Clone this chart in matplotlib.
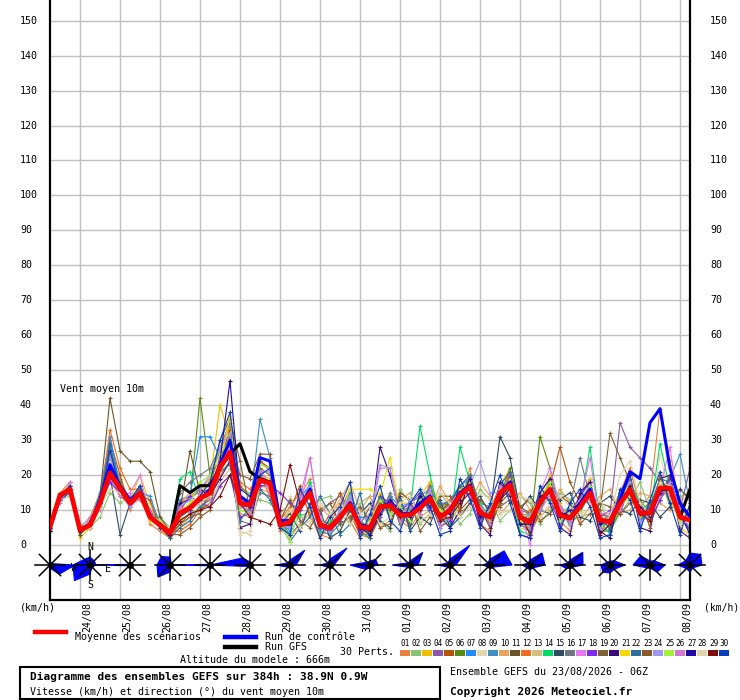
import numpy as np
import matplotlib
matplotlib.use("Agg")
import matplotlib.pyplot as plt
from matplotlib import transforms
from matplotlib.patches import Polygon, Rectangle
from matplotlib.lines import Line2D

plt.rcParams['font.family'] = ['DejaVu Sans Mono']

W, H = 740, 700

# run steps (hours from 23/08 06Z), one every 6h up to 384h
hours = np.arange(65) * 6

days = ["24/08", "25/08", "26/08", "27/08", "28/08", "29/08", "30/08", "31/08",
        "01/09", "02/09", "03/09", "04/09", "05/09", "06/09", "07/09", "08/09"]
day_hours = [18 + 24 * i for i in range(16)]

yticks = list(range(0, 151, 10))

pert_colors = ["#E6823C", "#8AC46E", "#F0C000", "#8C56AA", "#B4520A", "#5A8C14",
               "#1E8CFF", "#E6D6AF", "#3C91BE", "#E6A55A", "#6A5524", "#F06E1E",
               "#D2BE7D", "#00DC64", "#2D4B64", "#6E7882", "#E678F0", "#8228F0",
               "#7D6432", "#3C0A78", "#F0DC00", "#2D6EA0", "#8C5A28", "#A096F0",
               "#A0F03C", "#D278D2", "#1E0AA0", "#E1D2AA", "#820A0A", "#0A3CBE"]

# wind speed of the 30 perturbations (km/h)
perts = [
    [5,15,18,3,8,15,26,19, 10,17,6,4,2,12,14,16, 19,27,34,9,8,24,21,4,
     5,14,19,3,2,10,16,3, 2,8,13,7,5,9,18,5, 7,11,22,6,4,13,21,10, 3,9,20,7,4,14,19,3, 9,15,22,11,14,39,24,11, 9],
    [6,13,14,6,5,8,15,12, 14,13,10,8,5,7,9,11, 11,17,20,16,15,13,12,9,
     12,8,10,13,14,9,6,12, 14,7,4,16,12,6,9,15, 11,6,9,16,13,7,10,14, 12,6,10,15,13,8,9,13, 4,9,13,18,10,19,11,14, 15],
    [4,14,16,2,5,13,28,18, 13,20,12,5,3,10,14,15, 18,40,31,14,12,20,19,8,
     9,12,16,5,4,7,13,4, 3,15,10,12,12,14,18,11, 7,11,20,12,5,17,22,5, 4,9,20,12,6,14,19,4, 9,15,19,7,12,13,20,5, 3],
    [5,14,15,4,6,12,22,15, 12,15,9,6,3,9,10,13, 16,22,27,11,11,18,17,7,
     3,6,11,9,12,14,8,6, 3,8,14,6,11,9,16,10, 12,16,14,10,10,17,15,10, 9,14,15,10,9,13,12,9, 9,35,28,25,22,18,16,10, 22],
    [5,15,16,4,5,11,30,20, 11,14,13,5,2,6,9,10, 12,24,33,17,14,24,22,6,
     10,17,8,4,9,15,9,3, 6,13,8,11,10,12,11,9, 12,11,18,11,5,12,18,10, 4,9,17,28,18,12,16,9, 8,10,17,11,6,13,17,10, 8],
    [4,14,17,3,7,13,25,18, 12,14,8,5,3,11,13,42, 20,24,30,11,12,20,18,5,
     6,10,16,5,4,9,12,4, 2,10,14,6,11,9,17,10, 12,13,20,7,10,14,22,11, 4,31,22,10,6,9,16,4, 4,10,18,12,7,19,14,10, 4],
    [5,13,16,5,6,15,31,17, 13,15,14,6,4,13,14,31, 31,25,30,13,12,19,17,7,
     4,14,17,4,3,10,15,8, 8,8,14,11,12,14,16,11, 13,17,19,12,11,12,20,6, 4,15,19,11,5,14,18,5, 4,14,18,6,12,14,19,10, 9],
    [6,15,17,4,5,10,18,14, 11,13,7,5,3,4,7,12, 13,20,24,3,4,17,16,6,
     14,9,6,12,10,4,9,13, 7,13,8,11,6,12,10,10, 7,16,14,11,5,16,14,5, 8,14,13,10,5,13,12,9, 9,14,13,11,6,26,14,10, 9],
    [5,14,16,4,6,12,22,16, 12,16,8,6,3,9,11,13, 15,22,28,12,11,36,25,8,
     5,10,18,4,3,6,15,3, 3,9,14,7,11,9,16,6, 12,12,19,7,10,13,20,6, 9,10,18,7,10,9,17,5, 9,10,18,7,11,14,19,26, 12],
    [5,14,15,4,6,11,26,15, 12,13,9,6,4,12,15,16, 18,25,29,9,8,16,15,7,
     2,6,9,11,8,13,18,10, 14,5,7,13,15,8,10,17, 12,9,12,18,14,9,12,15, 10,8,11,16,12,7,11,14, 16,9,10,15,14,12,10,13, 16],
    [4,13,16,3,6,14,42,27, 24,24,21,8,4,10,27,15, 16,24,30,13,12,18,18,6,
     7,11,16,5,4,9,12,4, 6,14,9,11,6,14,13,5, 8,16,16,11,5,18,16,9, 8,14,15,11,6,14,13,9, 4,15,15,10,12,14,20,7, 10],
    [6,15,16,5,5,12,33,22, 16,16,9,7,4,4,6,10, 14,20,24,18,16,20,14,7,
     11,15,9,2,6,12,7,2, 8,14,12,8,6,15,12,11, 13,11,18,8,9,12,21,7, 10,11,18,8,9,10,16,6, 8,11,17,8,12,15,17,7, 8],
    [7,14,16,5,6,11,19,15, 13,14,9,6,4,5,8,11, 12,18,22,16,14,17,16,7,
     8,12,14,7,6,9,11,6, 4,10,13,7,10,10,15,7, 8,17,14,10,7,15,14,11, 5,13,13,7,11,10,16,10, 5,13,13,10,7,17,13,7, 10],
    [5,14,17,4,6,13,22,17, 12,15,8,6,3,19,21,13, 16,22,27,12,9,20,17,6,
     3,9,18,4,7,6,14,7, 5,11,12,9,10,34,20,8, 6,28,18,12,8,15,17,4, 3,14,16,9,11,11,28,7, 3,12,16,13,9,29,16,8, 7],
    [5,13,15,4,5,12,20,3, 12,14,9,6,3,8,10,12, 14,21,26,12,11,18,17,6,
     9,4,12,10,2,4,10,9, 12,7,5,14,4,8,6,13, 5,8,12,14,9,31,25,10, 14,10,9,13,15,8,7,12, 14,10,9,13,12,8,11,16, 13],
    [5,14,16,4,7,13,28,16, 13,14,9,6,4,15,18,20, 22,28,35,7,6,15,14,7,
     6,12,15,5,4,9,13,6, 3,8,15,6,12,9,17,6, 11,13,20,7,11,13,19,6, 4,10,19,6,11,25,14,6, 9,11,20,8,11,13,19,5, 11],
    [6,13,17,4,6,12,19,14, 15,20,8,5,3,8,12,13, 15,24,28,11,10,22,17,5,
     7,11,25,7,5,10,13,6, 5,22,22,10,9,12,14,8, 10,14,17,11,8,16,17,10, 0,15,22,11,9,12,25,6, 7,11,16,9,9,16,28,8, 7],
    [4,13,15,4,6,12,18,15, 11,14,8,6,3,10,14,12, 11,17,20,8,9,17,17,15,
     12,10,14,5,4,7,11,4, 6,14,12,10,12,15,10,9, 7,17,14,6,11,12,20,9, 8,15,13,6,9,14,18,8, 10,9,17,11,7,13,19,9, 4],
    [5,15,16,5,6,11,22,14, 12,15,9,6,3,6,8,9, 16,30,36,24,10,22,20,7,
     13,7,5,10,12,6,8,11, 7,12,10,11,6,13,12,11, 12,17,14,11,6,12,15,11, 9,14,13,11,6,14,14,10, 32,25,18,9,9,16,16,8, 7],
    [5,14,16,4,5,12,20,16, 12,14,8,6,3,12,13,16, 14,19,24,5,6,19,18,6,
     7,11,15,6,5,8,12,5, 5,28,20,9,9,11,13,8, 5,10,19,6,3,18,14,3, 2,15,19,5,3,15,18,4, 2,15,20,5,4,19,20,4, 2],
    [5,15,17,4,5,12,20,17, 13,15,7,6,3,10,12,14, 15,23,37,13,12,20,17,6,
     8,12,15,7,5,8,16,16, 16,14,25,10,9,12,13,7, 8,16,18,10,7,13,19,7, 5,14,17,10,9,13,14,6, 8,13,18,8,10,18,17,9, 9],
    [5,13,15,5,6,13,29,16, 12,16,8,6,2,5,7,11, 13,21,23,7,11,16,13,6,
     1,5,8,14,9,3,6,15, 2,14,8,13,5,15,9,12, 12,17,20,11,6,17,21,6, 6,13,16,9,8,11,16,7, 5,15,19,7,11,19,18,10, 4],
    [4,14,17,4,6,13,22,17, 12,17,10,6,3,3,5,8, 10,25,31,20,19,26,26,6,
     6,12,14,7,6,9,11,6, 11,5,6,15,13,4,8,14, 14,10,13,13,10,11,13,11, 13,7,9,14,12,6,9,12, 11,9,12,13,5,20,12,12, 8],
    [5,14,16,4,7,12,25,16, 11,15,9,6,4,11,13,16, 20,28,32,14,11,21,21,6,
     5,13,17,8,4,10,14,7, 8,23,22,7,13,10,16,5, 8,14,17,24,15,15,17,8, 9,10,14,11,6,13,17,5, 9,14,18,7,8,14,18,10, 9],
    [5,15,16,4,6,11,21,17, 12,14,8,7,3,8,12,18, 20,26,30,10,9,23,22,6,
     1,12,14,6,5,8,12,5, 7,13,9,11,7,13,15,10, 9,12,19,8,10,16,15,9, 8,14,18,7,9,10,17,8, 6,11,14,11,7,18,14,6, 10],
    [6,12,18,5,8,10,23,14, 14,13,10,5,4,11,9,15, 13,25,24,14,9,21,15,8,
     7,14,25,6,5,8,12,5, 6,9,13,7,11,9,15,6, 12,15,14,11,6,17,15,10, 5,13,14,11,7,13,13,9, 9,10,17,10,7,17,14,9, 5],
    [4,14,16,4,6,12,22,15, 13,15,8,6,3,9,11,13, 15,24,47,14,11,19,18,6,
     7,11,15,6,5,8,12,5, 3,9,13,10,8,14,11,9, 9,13,19,8,9,13,18,6, 6,14,15,8,10,12,14,6, 7,13,15,11,8,15,17,9, 3],
    [6,15,17,5,5,11,16,15, 12,14,8,6,4,9,10,12, 14,21,26,4,3,18,17,6,
     10,5,7,12,9,13,6,9, 11,6,8,12,14,7,9,15, 12,8,11,15,13,9,10,14, 13,8,12,14,11,9,10,13, 8,20,24,12,9,18,17,6, 7],
    [5,14,16,4,6,12,21,16, 12,15,8,6,3,7,9,10, 11,14,20,12,8,7,6,10,
     23,12,15,6,5,8,12,5, 4,11,12,8,9,10,14,7, 8,12,15,10,8,13,16,9, 3,12,16,9,8,11,15,3, 6,12,17,9,7,16,16,8, 7],
    [5,14,17,4,6,12,27,16, 13,17,9,5,4,9,10,14, 18,30,38,16,14,20,22,5,
     3,16,11,2,8,11,18,2, 9,17,7,4,12,16,11,3, 4,19,13,5,12,20,12,3, 2,17,12,4,12,16,11,2, 3,16,13,4,13,21,12,3, 12],
]

control = [5,14,16,4,6,13,23,17, 13,15,8,6,3,9,11,13, 16,23,30,14,12,25,24,7, 7,11,16,6,5,8,12,6,
           5,11,12,9,9,12,14,8, 10,15,17,9,8,15,18,8, 7,12,16,9,8,12,16,7, 7,13,21,19,35,39,22,12, 8]
gfs = [5,14,16,4,6,12,20,16, 12,15,8,6,3,17,15,17, 17,22,26,29,21,19,18,6, 6,11,15,6,5,8,12,5,
       5,11,11,9,9,11,13,8, 10,14,17,9,8,15,17,8, 7,12,16,9,8,11,15,7, 7,12,16,9,9,16,16,8, 16]
mean = [5.2,14.3,16.0,4.3,5.7,12.0,20.6,16.3, 12.0,14.9,8.0,5.7,3.4,9.2,10.6,13.4,
        14.9,22.3,26.6,12.0,11.4,18.6,17.7,5.7, 6.6,10.9,14.9,5.7,4.9,8.0,11.5,5.2,
        4.9,10.9,11.4,8.6,8.6,10.6,13.4,8.0, 10.0,14.3,16.6,9.2,8.0,14.9,17.2,8.0,
        6.6,12.3,16.0,8.6,7.7,10.9,14.9,7.2, 6.6,12.0,15.7,9.2,9.2,16.3,16.3,8.0, 7.2]

for p in perts:
    assert len(p) == 65, len(p)
assert len(control) == len(gfs) == len(mean) == 65

# daily wind direction distribution (radius per sector E, NE, N, NW, W, SW, S, SE)
rose_hours = [24 * i for i in range(17)]
rose_sectors = [
    [25, 2, 2, 1, 1, 1, 3, 13],
    [6, 6, 8, 8, 17, 22, 9, 3],
    [2, 1, 2, 1, 38, 1, 2, 1],
    [3, 2, 8, 12, 13, 17, 7, 2],
    [2, 1, 1, 1, 40, 1, 1, 1],
    [2, 3, 3, 10, 40, 2, 2, 1],
    [6, 21, 5, 3, 14, 3, 2, 2],
    [4, 24, 6, 3, 10, 3, 2, 2],
    [8, 8, 4, 4, 20, 6, 3, 2],
    [8, 18, 4, 3, 18, 3, 2, 2],
    [6, 28, 6, 3, 12, 3, 2, 2],
    [22, 20, 6, 3, 7, 3, 2, 3],
    [15, 17, 5, 3, 8, 4, 5, 4],
    [13, 18, 5, 3, 10, 5, 3, 3],
    [15, 6, 4, 4, 9, 10, 8, 6],
    [15, 6, 4, 13, 17, 4, 3, 10],
    [12, 15, 12, 6, 12, 5, 7, 4],
]
rose_y = -5.7

fig = plt.figure(figsize=(W / 100, H / 100), dpi=100, facecolor='white')
ax = fig.add_axes([50 / W, 100 / H, 640 / W, 600 / H])
ax.set_xlim(0, 384)
ax.set_ylim(-15.7, 155.9)
ax.set_xticks([])
ax.set_yticks([])
ax.spines['top'].set_visible(False)
for s in ['left', 'right', 'bottom']:
    ax.spines[s].set_linewidth(1.6)
    ax.spines[s].set_color('black')

grid_c = '#C0C0C0'
for v in yticks:
    ax.axhline(v, color=grid_c, lw=1.0, zorder=0)
for h in day_hours:
    ax.axvline(h, color=grid_c, lw=1.0, zorder=0)

# spaghetti
for p, c in zip(perts, pert_colors):
    ax.plot(hours, p, color=c, lw=0.8, marker='+', ms=3.5, mew=0.8, zorder=2)
ax.plot(hours, gfs, color='black', lw=2.2, zorder=3)
ax.plot(hours, control, color='#0000FF', lw=2.2, zorder=4)
ax.plot(hours, mean, color='#FF0000', lw=3.4, zorder=5, solid_joinstyle='round')

# wind roses
ang = np.deg2rad(np.arange(8) * 45)
for h, rad in zip(rose_hours, rose_sectors):
    off = fig.dpi_scale_trans + transforms.ScaledTranslation(h, rose_y, ax.transData)
    r = np.array(rad) / 100.0
    verts = np.column_stack([r * np.cos(ang), r * np.sin(ang)])
    ax.add_patch(Polygon(verts, closed=True, facecolor='#0000FF', edgecolor='#0000FF',
                         lw=0.8, transform=off, zorder=6, clip_on=False))
    for a in ang[:4]:
        dx, dy = 0.15 * np.cos(a), 0.15 * np.sin(a)
        ax.add_line(Line2D([-dx, dx], [-dy, dy], color='black', lw=1.1,
                           transform=off, zorder=7, clip_on=False))
    ax.add_line(Line2D([0], [0], marker='o', ms=4, color='black', transform=off, zorder=8))

# compass letters on the first day rose
off1 = fig.dpi_scale_trans + transforms.ScaledTranslation(rose_hours[1], rose_y, ax.transData)
for lbl, (dx, dy) in {'N': (0, 0.18), 'S': (0, -0.20), 'W': (-0.16, -0.03), 'E': (0.18, -0.04)}.items():
    ax.text(dx, dy, lbl, transform=off1, fontsize=7.2, ha='center', va='center', zorder=9)

# y labels, both sides
tl = transforms.blended_transform_factory(fig.transFigure, ax.transData)
for v in yticks:
    ax.text(20 / W, v, str(v), transform=tl, fontsize=7.2, ha='left', va='center', clip_on=False)
    ax.text(710 / W, v, str(v), transform=tl, fontsize=7.2, ha='left', va='center', clip_on=False)

# day labels under the axis
tb = transforms.blended_transform_factory(ax.transData, fig.transFigure)
for h, d in zip(day_hours, days):
    ax.text(h + 4.2, 1 - 602 / H, d, transform=tb, rotation=90, fontsize=7.2,
            ha='center', va='top', clip_on=False)


def P(x, y):
    return x / W, 1 - y / H


fig.text(*P(20, 607), "(km/h)", fontsize=7.2, va='center')
fig.text(*P(704, 607), "(km/h)", fontsize=7.0, va='center')
fig.text(*P(60, 389), "Vent moyen 10m", fontsize=7.2, va='center')

# legend
fig.add_artist(Line2D([35 / W, 66 / W], [P(0, 631.5)[1]] * 2, color='#FF0000', lw=3.2))
fig.text(*P(75, 637), "Moyenne des scénarios", fontsize=7.2, va='center')
fig.add_artist(Line2D([225 / W, 256 / W], [P(0, 636.5)[1]] * 2, color='#0000FF', lw=3.2))
fig.text(*P(265, 637), "Run de contrôle", fontsize=7.2, va='center')
fig.add_artist(Line2D([225 / W, 256 / W], [P(0, 646.5)[1]] * 2, color='black', lw=3.2))
fig.text(*P(265, 647), "Run GFS", fontsize=7.2, va='center')
fig.text(*P(340, 652), "30 Perts.", fontsize=7.2, va='center')
for i, c in enumerate(pert_colors):
    x0 = 400 + 11 * i
    fig.text(*P(x0 + 5.5, 644), "%02d" % (i + 1), fontsize=5.6, ha='center', va='center')
    fig.add_artist(Rectangle(P(x0, 655.5), 10 / W, 5.5 / H, transform=fig.transFigure,
                             facecolor=c, edgecolor='none'))
fig.text(*P(180, 660), "Altitude du modele : 666m", fontsize=7.2, va='center')

fig.add_artist(Rectangle(P(20, 699), 420 / W, 32 / H, transform=fig.transFigure,
                         facecolor='none', edgecolor='black', lw=1.5))
fig.text(*P(30, 677), "Diagramme des ensembles GEFS sur 384h : 38.9N 0.9W",
         fontsize=8, fontweight='bold', va='center')
fig.text(*P(30, 692), "Vitesse (km/h) et direction (°) du vent moyen 10m", fontsize=7.2, va='center')
fig.text(*P(450, 672), "Ensemble GEFS du 23/08/2026 - 06Z", fontsize=7.2, va='center')
fig.text(*P(450, 692), "Copyright 2026 Meteociel.fr", fontsize=8, fontweight='bold', va='center')

fig.savefig("out.png", dpi=100, facecolor='white')
